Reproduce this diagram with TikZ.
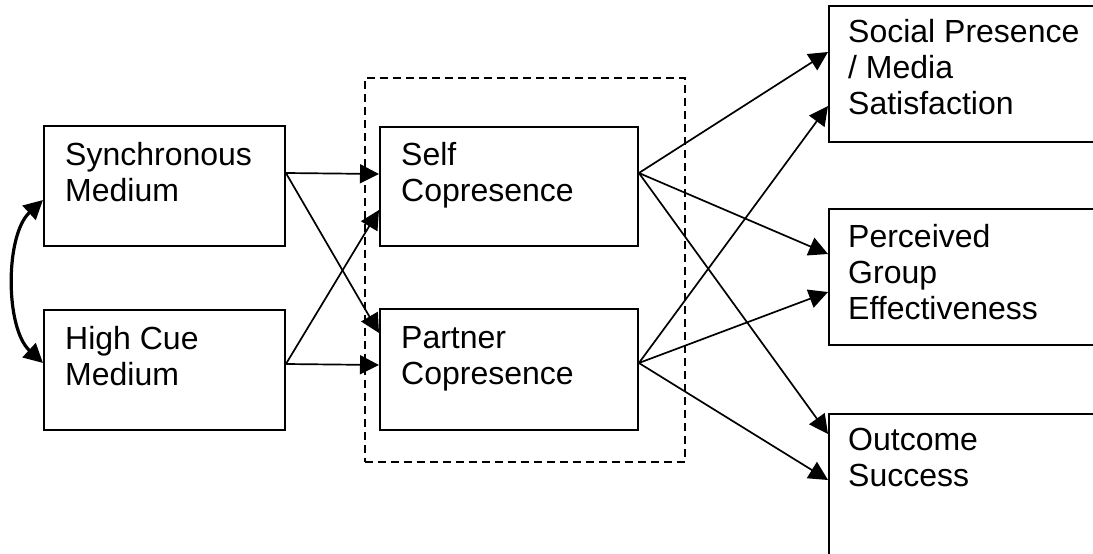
\documentclass[tikz,border=0pt]{standalone}
\usepackage{fontspec}
\setmainfont{Liberation Sans}
\usetikzlibrary{arrows.meta}
\begin{document}
\begin{tikzpicture}[x=1pt,y=-1pt,
  box/.style={draw, line width=1.9pt, anchor=north west, inner sep=0pt},
  txt/.style={anchor=base west, inner sep=0pt, font=\fontsize{32}{36}\selectfont},
  arr/.style={-{Triangle[length=19pt,width=19pt]}, line width=1.7pt},
  dbl/.style={{Triangle[length=19pt,width=19pt]}-{Triangle[length=19pt,width=19pt]}, line width=3.2pt},
  group/.style={draw, dash pattern=on 8pt off 5pt, line width=1.8pt, anchor=north west, inner sep=0pt}
]
\useasboundingbox (0,0) rectangle (1093,554);
\clip (0,0) rectangle (1093,554);

% dashed group
\node[group, minimum width=320pt, minimum height=384pt] (grp) at (364,77) {};

% boxes
\node[box, minimum width=241pt, minimum height=120pt] (sync) at (43,125) {};
\node[box, minimum width=241pt, minimum height=120pt] (high) at (43,309) {};
\node[box, minimum width=258pt, minimum height=119pt] (self) at (379,126) {};
\node[box, minimum width=258pt, minimum height=121pt] (partner) at (379,308) {};
\node[box, minimum width=270pt, minimum height=136pt] (social) at (828,5) {};
\node[box, minimum width=270pt, minimum height=136pt] (perc) at (828,208) {};
\node[box, minimum width=270pt, minimum height=150pt] (outc) at (828,413) {};

% texts
\node[txt] (tsync) at ([shift={(22,40)}]sync.north west) {\parbox[t]{300pt}{Synchronous\\Medium}};
\node[txt] (thigh) at ([shift={(22,40)}]high.north west) {\parbox[t]{300pt}{High Cue\\Medium}};
\node[txt] (tself) at ([shift={(22,39)}]self.north west) {\parbox[t]{300pt}{Self\\Copresence}};
\node[txt] (tpart) at ([shift={(22,40)}]partner.north west) {\parbox[t]{300pt}{Partner\\Copresence}};
\node[txt] (tsoc) at ([shift={(20,37)}]social.north west) {\parbox[t]{300pt}{Social Presence\\/ Media\\Satisfaction}};
\node[txt] (tperc) at ([shift={(20,39)}]perc.north west) {\parbox[t]{300pt}{Perceived\\Group\\Effectiveness}};
\node[txt] (toutc) at ([shift={(20,37)}]outc.north west) {\parbox[t]{300pt}{Outcome\\Success}};

% connectors left
\draw[arr] ([shift={(0,48)}]sync.north east) -- ([shift={(0,48)}]self.north west);
\draw[arr] ([shift={(0,48)}]sync.north east) -- ([shift={(0,25)}]partner.north west);
\draw[arr] ([shift={(0,55)}]high.north east) -- ([shift={(0,84)}]self.north west);
\draw[arr] ([shift={(0,55)}]high.north east) -- ([shift={(0,57)}]partner.north west);

% connectors right
\draw[arr] ([shift={(0,47)}]self.north east) -- ([shift={(0,47)}]social.north west);
\draw[arr] ([shift={(0,47)}]self.north east) -- ([shift={(0,46)}]perc.north west);
\draw[arr] ([shift={(0,47)}]self.north east) -- ([shift={(0,21)}]outc.north west);
\draw[arr] ([shift={(0,55)}]partner.north east) -- ([shift={(0,101)}]social.north west);
\draw[arr] ([shift={(0,55)}]partner.north east) -- ([shift={(0,84)}]perc.north west);
\draw[arr] ([shift={(0,55)}]partner.north east) -- ([shift={(0,67)}]outc.north west);

% correlation
\draw[dbl] ([shift={(0,75)}]sync.north west) .. controls (5,235) and (5,328) .. ([shift={(0,54)}]high.north west);
\end{tikzpicture}
\end{document}
